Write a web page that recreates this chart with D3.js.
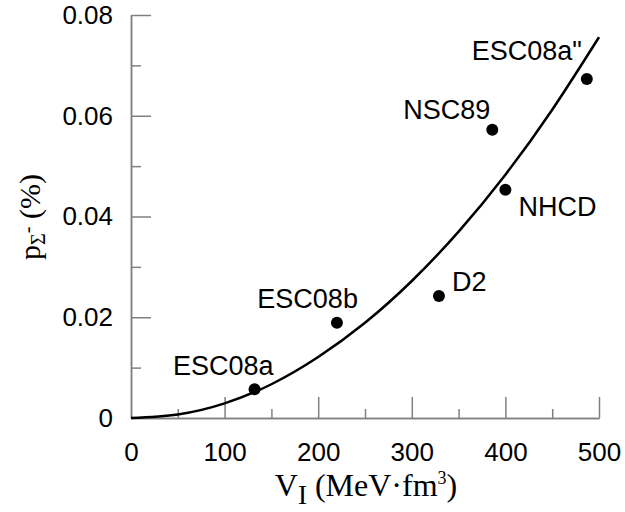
<!DOCTYPE html>
<html>
<head>
<meta charset="utf-8">
<script src="https://cdn.jsdelivr.net/npm/d3@7"></script>
<style>
  body { margin: 0; background: #fff; }
  svg { display: block; }
  .tick text { font-family: "Liberation Sans", Arial, sans-serif; font-size: 26px; fill: #000; }
</style>
</head>
<body>
<script>
// models: V_I (MeV fm^3) vs Sigma- admixture (%)
const names = ['ESC08a', 'ESC08b', 'D2', 'NHCD', 'NSC89', "ESC08a\""]
const vI = [132, 220, 329, 400, 386, 487]
const pSigma = [0.0057, 0.0189, 0.0242, 0.0453, 0.0572, 0.0673]

// fitted curve
const curveX = [0, 50, 100, 150, 200, 250, 300, 350, 400, 450, 500]
const curveY = [0, 0.0007, 0.0029, 0.0067, 0.0121, 0.0189, 0.0272, 0.0370, 0.0483, 0.0612, 0.0756]

const xTicks = [0, 100, 200, 300, 400, 500]
const yTicks = [0, 0.02, 0.04, 0.06, 0.08]

// label placement relative to each dot [dx, dy, anchor]
const labelPos = {
  'ESC08a': [19, -14, 'end'],
  'ESC08b': [21, -15, 'end'],
  'D2': [13, -5, 'start'],
  'NHCD': [13, 26, 'start'],
  'NSC89': [-2, -11, 'end'],
  "ESC08a\"": [-5, -19, 'end']
}

const width = 625, height = 512
const x = d3.scaleLinear().domain([0, 500]).range([131, 599])
const y = d3.scaleLinear().domain([0, 0.08]).range([418, 15])
const axisColor = '#808080'

const svg = d3.select('body').append('svg')
  .attr('width', width)
  .attr('height', height)

// x axis: ticks point up into the plot
svg.append('g')
  .attr('transform', `translate(0,${y(0)})`)
  .call(d3.axisTop(x).tickValues(d3.range(50, 500, 100)).tickSize(9).tickFormat('').tickSizeOuter(0))
svg.append('g')
  .attr('transform', `translate(0,${y(0)})`)
  .call(d3.axisTop(x).tickValues(xTicks.slice(1)).tickSize(21).tickFormat('').tickSizeOuter(0))
svg.append('g')
  .attr('transform', `translate(0,${y(0)})`)
  .call(d3.axisBottom(x).tickValues(xTicks).tickSize(0).tickPadding(25).tickFormat(d3.format('d')))
  .call(g => g.select('.domain').remove())

// y axis: ticks point right into the plot
svg.append('g')
  .attr('transform', `translate(${x(0)},0)`)
  .call(d3.axisRight(y).tickValues(d3.range(0.01, 0.08, 0.02)).tickSize(10).tickFormat('').tickSizeOuter(0))
svg.append('g')
  .attr('transform', `translate(${x(0)},0)`)
  .call(d3.axisRight(y).tickValues(yTicks.slice(1)).tickSize(20).tickFormat('').tickSizeOuter(0))
svg.append('g')
  .attr('transform', `translate(${x(0)},0)`)
  .call(d3.axisLeft(y).tickValues(yTicks).tickSize(0).tickPadding(18).tickFormat(d => d === 0 ? '0' : d3.format('.2f')(d)))
  .call(g => g.select('.domain').remove())

svg.selectAll('.domain, .tick line')
  .attr('stroke', axisColor)
  .attr('stroke-width', 1.5)

// curve
const line = d3.line()
  .x(d => x(d[0]))
  .y(d => y(d[1]))
  .curve(d3.curveNatural)

svg.append('path')
  .datum(d3.zip(curveX, curveY))
  .attr('fill', 'none')
  .attr('stroke', '#000')
  .attr('stroke-width', 2.5)
  .attr('d', line)

// points + labels
const pts = names.map((n, i) => ({ name: n, v: vI[i], p: pSigma[i] }))

svg.selectAll('circle.pt')
  .data(pts)
  .join('circle')
  .attr('class', 'pt')
  .attr('cx', d => x(d.v))
  .attr('cy', d => y(d.p))
  .attr('r', 6)
  .attr('fill', '#000')

svg.selectAll('text.lbl')
  .data(pts)
  .join('text')
  .attr('class', 'lbl')
  .attr('x', d => x(d.v) + labelPos[d.name][0])
  .attr('y', d => y(d.p) + labelPos[d.name][1])
  .attr('text-anchor', d => labelPos[d.name][2])
  .style('font-family', '"Liberation Sans", Arial, sans-serif')
  .style('font-size', '27px')
  .text(d => d.name)

// axis titles
const serif = '"Liberation Serif", "Times New Roman", serif'

const xt = svg.append('text')
  .attr('x', 366)
  .attr('y', 496)
  .attr('text-anchor', 'middle')
  .style('font-family', serif)
  .style('font-size', '32px')
xt.append('tspan').text('V')
xt.append('tspan').attr('dy', 8).style('font-size', '27px').text('I')
xt.append('tspan').attr('dy', -8).text(' (MeV·fm')
xt.append('tspan').attr('dy', -12).style('font-size', '18px').text('3')
xt.append('tspan').attr('dy', 12).text(')')

const yt = svg.append('text')
  .attr('transform', 'translate(40,217) rotate(-90)')
  .attr('text-anchor', 'middle')
  .style('font-family', serif)
  .style('font-size', '30px')
yt.append('tspan').text('p')
yt.append('tspan').attr('dy', 5).style('font-size', '20px').text('Σ')
yt.append('tspan').attr('dy', -11).style('font-size', '20px').text('-')
yt.append('tspan').attr('dy', 6).text(' (%)')
</script>
</body>
</html>
